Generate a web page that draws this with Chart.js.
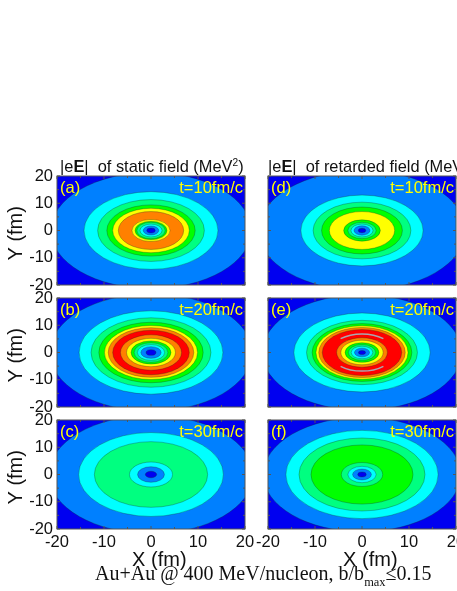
<!DOCTYPE html>
<html><head><meta charset="utf-8">
<script src="https://cdn.jsdelivr.net/npm/chart.js@4"></script>
<style>
html,body{margin:0;padding:0;background:#fff;width:457px;height:591px;overflow:hidden}
canvas{position:absolute;left:0;top:0}
.t{position:absolute;white-space:pre;font-family:"Liberation Sans",Arial,sans-serif;color:#111}
.c{position:absolute;white-space:pre;font-family:"Liberation Serif","Times New Roman",serif;color:#111}
sup{font-size:62%;line-height:0;vertical-align:baseline;position:relative;top:-.55em}
sub{font-size:62%;line-height:0;vertical-align:baseline;position:relative;top:.5em}
</style></head><body>
<div id="stage"></div>
<div class="t" style="left:60px;top:157px;font-size:16.4px">|e<b>E</b>|  of static field (MeV<sup>2</sup>)</div>
<div class="t" style="left:268px;top:157px;font-size:16.4px">|e<b>E</b>|  of retarded field (MeV<sup>2</sup>)</div>
<div class="c" style="left:95px;top:562px;font-size:20px">Au+Au @ 400 MeV/nucleon, b/b<sub>max</sub>≤0.15</div>
<script>
// tick labels and axis range
const axisMin = -20, axisMax = 20, tickStep = 5, labelStep = 10;
const xTitle = "   X (fm)", yTitle = "Y (fm) ";
// colour scale of contour levels
const levelColors = ["#0000F0","#0080FF","#00FFFF","#00FF80","#00FF00","#FFFF00","#FF8000","#FF0000"];
// contour radii (fm) and the level filling each one, outermost first
const radiiA = [21.3,14.25,11.35,9.4,8.15,6.95,4.05,3.4,3,2.35,1.65,0.9];
const levelsA = [1,2,3,4,5,6,5,4,3,2,1,0];
const radiiB = [21.5,15.3,12.75,11.1,9.9,9.1,8.15,6.5,5.2,4.25,3.6,2.9,2.15,1.05];
const levelsB = [1,2,3,4,5,6,7,6,5,4,3,2,1,0];
const radiiC = [21.7,15.4,12.05,4.58,2.85,1.2];
const levelsC = [1,2,3,2,1,0];
const radiiD = [22,13,10.4,8.6,6.95,3.9,3,2.35,1.7,0.8];
const levelsD = [1,2,3,4,5,4,3,2,1,0];
const radiiE = [21.2,14.5,11.8,10.6,9.8,9.2,8.45,5.4,4.5,3.6,2.9,2.3,1.6,0.75];
const levelsE = [1,2,3,4,5,6,7,6,5,4,3,2,1,0];
const radiiF = [21,16.2,13.4,10.85,4.4,3,2,0.9];
const levelsF = [1,2,3,4,3,2,1,0];
// panel captions
const panelTags = ["(a)","(b)","(c)","(d)","(e)","(f)"];
const panelTimes = ["t=10fm/c","t=20fm/c","t=30fm/c","t=10fm/c","t=20fm/c","t=30fm/c"];
const panelRadii = [radiiA,radiiB,radiiC,radiiD,radiiE,radiiF];
const panelLevels = [levelsA,levelsB,levelsC,levelsD,levelsE,levelsF];
// grey sliver contours in panel (e): radius (fm), half-angle from the Y axis (degrees)
const sliverRadiusE = 6.8, sliverHalfAngleE = 42;

const W = 457, H = 591;
const tops = [176,298,420], plotH = 109, lefts = [57,268], plotW = 188, xAxisH = 41;

class ContourController extends Chart.ScatterController {
  draw() {
    const ctx = this.chart.ctx, ds = this.getDataset(), pts = this._cachedMeta.data, area = this.chart.chartArea;
    const a = pts[0], b = pts[1];
    const cx = (a.x + b.x) / 2, cy = (a.y + b.y) / 2, rx = Math.abs(b.x - a.x) / 2, ry = Math.abs(b.y - a.y) / 2;
    ctx.save();
    ctx.beginPath();
    ctx.rect(area.left, area.top, area.right - area.left, area.bottom - area.top);
    ctx.clip();
    ctx.beginPath();
    if (ds.sliverHalfAngle) {
      const s = ds.sliverHalfAngle * Math.PI / 180;
      ctx.strokeStyle = "#A8A8B0"; ctx.lineWidth = 1.4;
      ctx.ellipse(cx, cy, rx, ry, 0, -Math.PI/2 - s, -Math.PI/2 + s);
      ctx.stroke();
      ctx.beginPath();
      ctx.ellipse(cx, cy, rx, ry, 0, Math.PI/2 - s, Math.PI/2 + s);
      ctx.stroke();
    } else {
      ctx.ellipse(cx, cy, rx, ry, 0, 0, Math.PI * 2);
      ctx.fillStyle = ds.fillColor; ctx.fill();
      ctx.strokeStyle = "rgba(20,40,30,.6)"; ctx.lineWidth = .5; ctx.stroke();
    }
    ctx.restore();
  }
}
ContourController.id = "contour";
ContourController.defaults = Object.assign({}, Chart.ScatterController.defaults);
Chart.register(ContourController);

const panelDecor = {
  id: "panelDecor",
  beforeDatasetsDraw(chart, _a, o) {
    const {left,right,top,bottom} = chart.chartArea, c = chart.ctx;
    c.save(); c.fillStyle = levelColors[0]; c.fillRect(left,top,right-left,bottom-top); c.restore();
  },
  afterDraw(chart, _a, o) {
    const {left,right,top,bottom} = chart.chartArea, c = chart.ctx;
    c.save();
    c.strokeStyle = "#555"; c.lineWidth = 1;
    c.strokeRect(left,top,right-left,bottom-top);
    chart.scales.x.ticks.forEach(t => {
      const p = chart.scales.x.getPixelForValue(t.value), l = t.value % labelStep === 0 ? 3 : 2;
      c.beginPath(); c.moveTo(p,bottom); c.lineTo(p,bottom-l); c.moveTo(p,top); c.lineTo(p,top+l); c.stroke();
    });
    chart.scales.y.ticks.forEach(t => {
      const p = chart.scales.y.getPixelForValue(t.value), l = t.value % labelStep === 0 ? 3 : 2;
      c.beginPath(); c.moveTo(left,p); c.lineTo(left+l,p); c.moveTo(right,p); c.lineTo(right-l,p); c.stroke();
    });
    c.fillStyle = "#FFFF00"; c.font = '16.5px "Liberation Sans"'; c.textBaseline = "middle";
    c.textAlign = "left"; c.fillText(o.tag, left+3, top+12);
    c.textAlign = "right"; c.fillText(o.time, right-2, top+12);
    c.restore();
  }
};

function makePanel(i) {
  const col = i < 3 ? 0 : 1, row = i % 3;
  const left = lefts[col], top = tops[row];
  const axisH = row===2 ? xAxisH : 0;
  const cv = document.createElement("canvas");
  cv.width = W; cv.height = H; cv.style.width = W+"px"; cv.style.height = H+"px";
  document.getElementById("stage").appendChild(cv);
  const datasets = panelRadii[i].map((r,k) => ({
    type: "contour", data: [{x:-r,y:-r},{x:r,y:r}], fillColor: levelColors[panelLevels[i][k]], order: -k, pointRadius: 0
  }));
  if (i === 4) datasets.push({type:"contour", data:[{x:-sliverRadiusE,y:-sliverRadiusE},{x:sliverRadiusE,y:sliverRadiusE}], sliverHalfAngle: sliverHalfAngleE, order:-99, pointRadius:0});
  const tickFont = {family:'"Liberation Sans"', size:16.5};
  const fixPad = s => { s.paddingLeft=0; s.paddingRight=0; s.paddingTop=0; s.paddingBottom=0; };
  new Chart(cv.getContext("2d"), {
    data: {datasets},
    plugins: [panelDecor],
    options: {
      responsive:false, animation:false, events:[], devicePixelRatio:1,
      layout:{padding:{left:6, top, right:W-left-plotW, bottom:H-top-plotH-axisH}},
      plugins:{legend:{display:false}, tooltip:{enabled:false}, title:{display:false}, panelDecor:{tag:panelTags[i], time:panelTimes[i]}},
      scales:{
        x:{type:"linear", min:axisMin, max:axisMax,
          grid:{display:false, drawTicks:false, tickLength:0}, border:{display:false},
          afterFit:s=>{s.height=axisH; fixPad(s);},
          ticks:{display:row===2, stepSize:tickStep, autoSkip:false, maxRotation:0, padding:4, color:"#111", font:tickFont,
            callback:v=>v%labelStep===0?String(v):""},
          title:{display:row===2, text:xTitle, color:"#111", padding:0, font:{family:'"Liberation Sans"',size:20,lineHeight:1}}},
        y:{type:"linear", min:axisMin, max:axisMax,
          grid:{display:false, drawTicks:false, tickLength:0}, border:{display:false},
          afterFit:s=>{s.width=left-6; fixPad(s);},
          ticks:{display:col===0, stepSize:tickStep, autoSkip:false, padding:4, color:"#111", font:tickFont,
            callback:v=>v%labelStep===0?String(v):""},
          title:{display:col===0, text:yTitle, color:"#111", padding:0, font:{family:'"Liberation Sans"',size:20,lineHeight:1}}}
      }
    }
  });
}
for (let i=0;i<6;i++) makePanel(i);
</script>
</body></html>
